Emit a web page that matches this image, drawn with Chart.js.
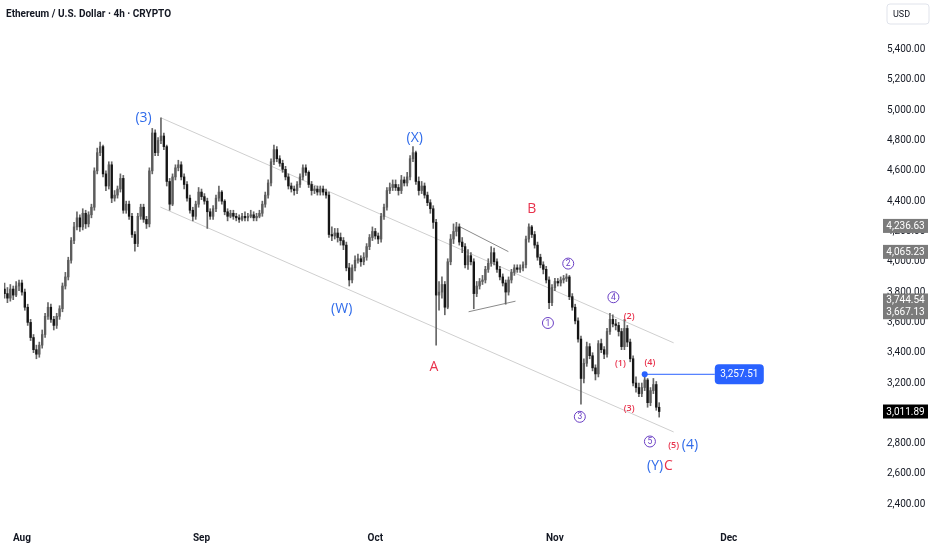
<!DOCTYPE html>
<html>
<head>
<meta charset="utf-8">
<title>ETHUSD 4h</title>
<script src="https://cdn.jsdelivr.net/npm/chart.js@4.4.1/dist/chart.umd.min.js"></script>
<style>
  html, body { margin: 0; padding: 0; background: #fff; }
  #wrap { position: relative; width: 932px; height: 550px; }
</style>
</head>
<body>
<div id="wrap"><canvas id="chart_eth" width="932" height="550"></canvas></div>
<script>
// Candles (12h each), day 0 = 1 Aug
const firstDay = -3
const stepDays = 0.5

const opens = [3820,3790,3760,3820,3780,3840,3860,3800,3700,3600,
 3500,3420,3390,3450,3520,3640,3700,3620,3580,3640,
 3690,3840,3900,4010,4140,4230,4290,4230,4320,4250,
 4310,4360,4600,4720,4760,4580,4500,4640,4420,4440,
 4480,4550,4340,4380,4300,4180,4120,4300,4360,4280,
 4250,4600,4850,4720,4800,4830,4760,4530,4380,4560,
 4620,4640,4560,4510,4420,4340,4300,4380,4460,4430,
 4400,4330,4300,4350,4420,4460,4400,4330,4300,4320,
 4300,4290,4280,4300,4290,4300,4310,4290,4300,4320,
 4380,4440,4520,4660,4740,4680,4650,4610,4560,4500,
 4480,4470,4510,4560,4620,4590,4510,4470,4480,4460,
 4480,4460,4440,4180,4170,4190,4160,4140,4110,3960,
 3880,3960,4010,4020,4000,4030,4100,4160,4200,4170,
 4150,4300,4360,4470,4490,4510,4490,4470,4540,4520,
 4560,4680,4720,4530,4470,4500,4440,4390,4350,4260,
 3780,3800,3850,3700,4000,4150,4200,4230,4130,4100,
 3980,4040,4000,3790,3840,3870,3880,3950,3990,4060,
 4000,3950,3900,3860,3800,3880,3930,3960,3950,3960,
 3980,4150,4230,4180,4110,4030,3980,3950,3880,3730,
 3830,3870,3860,3880,3890,3900,3770,3700,3610,3490,
 3230,3330,3440,3380,3300,3260,3460,3420,3390,3540,
 3620,3590,3580,3540,3440,3560,3470,3360,3200,3170,
 3130,3170,3220,3070,3150,3190,3040]

const highs = [3860,3830,3850,3840,3870,3880,3880,3820,3720,3620,
 3520,3450,3470,3550,3660,3730,3720,3640,3660,3710,
 3860,3930,4030,4160,4260,4330,4310,4350,4340,4330,
 4380,4620,4750,4790,4770,4600,4660,4660,4470,4500,
 4580,4570,4400,4400,4320,4200,4320,4380,4380,4300,
 4620,4880,4870,4820,4950,4850,4770,4550,4580,4640,
 4670,4660,4580,4530,4440,4360,4400,4490,4480,4450,
 4420,4350,4370,4440,4500,4470,4410,4350,4340,4340,
 4320,4310,4320,4330,4320,4340,4330,4320,4340,4400,
 4460,4540,4680,4770,4760,4700,4670,4630,4580,4520,
 4500,4530,4580,4640,4640,4600,4530,4500,4500,4500,
 4500,4480,4460,4230,4220,4220,4190,4160,4130,3990,
 3980,4040,4050,4040,4060,4120,4180,4230,4220,4190,
 4320,4380,4490,4520,4540,4540,4510,4570,4560,4590,
 4700,4760,4730,4560,4530,4520,4460,4410,4370,4280,
 3870,3900,3870,4020,4180,4250,4260,4250,4160,4120,
 4080,4060,4020,3870,3890,3910,3970,4020,4100,4090,
 4020,3970,3920,3880,3900,3950,3980,3980,3980,4000,
 4170,4250,4240,4200,4130,4050,4000,3970,3900,3850,
 3890,3890,3900,3910,3920,3910,3790,3720,3630,3510,
 3360,3470,3460,3400,3320,3480,3490,3440,3560,3660,
 3650,3620,3600,3560,3620,3580,3490,3380,3240,3200,
 3200,3257.51,3230,3170,3230,3210,3070]

const lows = [3760,3730,3740,3750,3770,3810,3780,3680,3580,3480,
 3400,3360,3370,3430,3500,3620,3600,3550,3560,3620,
 3670,3820,3880,3990,4120,4210,4200,4210,4220,4230,
 4290,4340,4580,4700,4560,4470,4480,4390,4400,4420,
 4460,4320,4320,4280,4160,4070,4100,4280,4260,4220,
 4230,4580,4700,4700,4780,4740,4500,4340,4370,4540,
 4600,4540,4480,4400,4320,4270,4280,4360,4410,4380,
 4220,4280,4280,4330,4400,4380,4310,4270,4290,4280,
 4270,4260,4270,4270,4270,4290,4270,4270,4290,4300,
 4360,4420,4500,4640,4660,4630,4590,4540,4480,4460,
 4440,4450,4490,4540,4570,4490,4440,4450,4440,4440,
 4440,4420,4160,4140,4150,4130,4110,4080,3940,3840,
 3860,3940,3990,3970,3980,4010,4080,4140,4150,4120,
 4130,4280,4340,4450,4470,4470,4440,4450,4500,4500,
 4540,4660,4510,4440,4450,4420,4370,4320,4220,3450,
 3680,3760,3650,3690,3980,4120,4170,4110,4060,3960,
 3950,3980,3690,3770,3820,3850,3860,3930,3970,3980,
 3930,3880,3840,3720,3780,3860,3910,3930,3930,3940,
 3960,4130,4160,4090,4010,3960,3920,3860,3690,3710,
 3810,3840,3840,3860,3870,3750,3680,3590,3470,3060,
 3200,3310,3360,3280,3220,3240,3400,3360,3370,3520,
 3570,3550,3510,3420,3420,3440,3340,3180,3140,3110,
 3110,3150,3040,3050,3130,3020,2975]

const closes = [3790,3760,3820,3780,3840,3860,3800,3700,3600,3500,
 3420,3390,3450,3520,3640,3700,3620,3580,3640,3690,
 3840,3900,4010,4140,4230,4290,4230,4320,4250,4310,
 4360,4600,4720,4760,4580,4500,4640,4420,4440,4480,
 4550,4340,4380,4300,4180,4120,4300,4360,4280,4250,
 4600,4850,4720,4800,4830,4760,4530,4380,4560,4620,
 4640,4560,4510,4420,4340,4300,4380,4460,4430,4400,
 4330,4300,4350,4420,4460,4400,4330,4300,4320,4300,
 4290,4280,4300,4290,4300,4310,4290,4300,4320,4380,
 4440,4520,4660,4740,4680,4650,4610,4560,4500,4480,
 4470,4510,4560,4620,4590,4510,4470,4480,4460,4480,
 4460,4440,4180,4170,4190,4160,4140,4110,3960,3880,
 3960,4010,4020,4000,4030,4100,4160,4200,4170,4150,
 4300,4360,4470,4490,4510,4490,4470,4540,4520,4560,
 4680,4720,4530,4470,4500,4440,4390,4350,4260,3780,
 3800,3850,3700,4000,4150,4200,4230,4130,4100,3980,
 4040,4000,3790,3840,3870,3880,3950,3990,4060,4000,
 3950,3900,3860,3800,3880,3930,3960,3950,3960,3980,
 4150,4230,4180,4110,4030,3980,3950,3880,3730,3830,
 3870,3860,3880,3890,3900,3770,3700,3610,3490,3230,
 3330,3440,3380,3300,3260,3460,3420,3390,3540,3620,
 3590,3580,3540,3440,3560,3470,3360,3200,3170,3130,
 3170,3220,3070,3150,3190,3040,3011.89]

// Eixos
const monthDays = [0, 31, 61, 92, 122]
const monthNames = ['Aug', 'Sep', 'Oct', 'Nov', 'Dec']
const priceTicks = [2400, 2600, 2800, 3000, 3200, 3400, 3600, 3800, 4000, 4200, 4400, 4600, 4800, 5000, 5200, 5400]

// Linhas desenhadas (dia, preço)
const channelTop = [[24.05, 4949], [112.5, 3465]]
const channelBottom = [[23.9, 4361], [112.5, 2877]]
const triangleTop = [[75.65, 4230], [83.97, 4067]]
const triangleBottom = [[77.1, 3670], [85.2, 3740]]
const alertPrice = 3257.51
const alertFrom = 107.5
const alertTo = 119.6

// Marcas de preço no eixo
const grayTags = [4236.63, 4065.23, 3744.54, 3667.13]
const lastPrice = 3011.89

// Contagem de ondas: [texto, dia, preço]
const blueWaves = [['(3)', 21, 4950], ['(X)', 67.8, 4818], ['(W)', 55.2, 3688], ['(Y)', 109.3, 2655], ['(4)', 115.3, 2792]]
const redWaves = [['A', 71.1, 3308], ['B', 88.0, 4348], ['C', 111.6, 2655]]
const circleWaves = [['1', 90.8, 3596], ['2', 94.3, 3988], ['3', 96.3, 2977], ['4', 102.1, 3766], ['5', 108.4, 2814]]
const subWaves = [['(1)', 103.3, 3330], ['(2)', 104.8, 3637], ['(3)', 104.8, 3034], ['(4)', 108.4, 3335], ['(5)', 112.5, 2786]]

function fmt(v) {
    return v.toLocaleString('en-US', { minimumFractionDigits: 2, maximumFractionDigits: 2 })
}
function pts(arr) {
    return arr.map(p => ({ x: p[0], y: p[1] }))
}

let wicks = []
let bodies = []
let bodyColors = []
for (let i = 0; i < closes.length; i++) {
    let d = firstDay + i * stepDays
    wicks.push({ x: d, y: [lows[i], highs[i]] })
    bodies.push({ x: d, y: [opens[i], closes[i]] })
    bodyColors.push(closes[i] >= opens[i] ? '#5c5c5c' : '#151515')
}

const BLUE = '#2f6bea'
const RED = '#e8334d'
const PURPLE = '#6a3fc4'
const TEXT = '#131722'

const overlay = {
    id: 'overlay',
    afterDraw(chart) {
        const ctx = chart.ctx
        const x = chart.scales.x
        const y = chart.scales.y
        const area = chart.chartArea
        ctx.save()

        // título
        ctx.textAlign = 'left'
        ctx.textBaseline = 'middle'
        ctx.fillStyle = TEXT
        ctx.font = 'bold 10px Roboto'
        ctx.fillText('Ethereum / U.S. Dollar · 4h · CRYPTO', 6, 14)

        // ondas
        ctx.textAlign = 'center'
        ctx.font = '14px "Open Sans"'
        ctx.fillStyle = BLUE
        blueWaves.forEach(w => ctx.fillText(w[0], x.getPixelForValue(w[1]), y.getPixelForValue(w[2])))
        ctx.fillStyle = RED
        redWaves.forEach(w => ctx.fillText(w[0], x.getPixelForValue(w[1]), y.getPixelForValue(w[2])))

        ctx.font = '600 9px "Open Sans"'
        ctx.fillStyle = RED
        subWaves.forEach(w => ctx.fillText(w[0], x.getPixelForValue(w[1]), y.getPixelForValue(w[2])))

        ctx.strokeStyle = PURPLE
        ctx.fillStyle = PURPLE
        ctx.lineWidth = 1
        ctx.font = '8.5px Roboto'
        circleWaves.forEach(w => {
            let px = x.getPixelForValue(w[1])
            let py = y.getPixelForValue(w[2])
            ctx.beginPath()
            ctx.arc(px, py, 5.5, 0, Math.PI * 2)
            ctx.stroke()
            ctx.fillText(w[0], px, py + 0.5)
        })

        // alerta azul
        let ax = x.getPixelForValue(alertTo)
        let ay = y.getPixelForValue(alertPrice)
        ctx.fillStyle = '#2962ff'
        ctx.beginPath()
        ctx.roundRect(ax, ay - 10, 49, 20, 4)
        ctx.fill()
        ctx.fillStyle = '#fff'
        ctx.font = '10px Roboto'
        ctx.fillText(fmt(alertPrice), ax + 24.5, ay + 0.5)

        // marcas no eixo de preço
        let tx = area.right + 13
        grayTags.forEach(v => {
            let py = y.getPixelForValue(v)
            ctx.fillStyle = '#7b7b7b'
            ctx.fillRect(tx, py - 7, 45, 14)
            ctx.fillStyle = '#fff'
            ctx.fillText(fmt(v), tx + 22.5, py + 0.5)
        })
        let ly = y.getPixelForValue(lastPrice)
        ctx.fillStyle = '#000'
        ctx.fillRect(tx, ly - 7, 45, 14)
        ctx.fillStyle = '#fff'
        ctx.fillText(fmt(lastPrice), tx + 22.5, ly + 0.5)

        // USD
        ctx.strokeStyle = '#e0e3eb'
        ctx.beginPath()
        ctx.roundRect(tx + 4, 4, 42, 20, 3)
        ctx.stroke()
        ctx.fillStyle = TEXT
        ctx.textAlign = 'left'
        ctx.font = '9px Roboto'
        ctx.fillText('USD', tx + 10, 14.5)

        ctx.restore()
    }
}

const chart_eth = new Chart(document.getElementById('chart_eth'), {
    type: 'bar',
    data: {
        datasets: [{
            type: 'bar',
            data: bodies,
            backgroundColor: bodyColors,
            barThickness: 1.7,
            minBarLength: 1,
            grouped: false,
            order: 1
        }, {
            type: 'bar',
            data: wicks,
            backgroundColor: '#666666',
            barThickness: 1,
            grouped: false,
            order: 2
        }, {
            type: 'line',
            data: pts(channelTop),
            borderColor: '#cfcfcf',
            borderWidth: 1,
            pointRadius: 0,
            order: 3
        }, {
            type: 'line',
            data: pts(channelBottom),
            borderColor: '#cfcfcf',
            borderWidth: 1,
            pointRadius: 0,
            order: 3
        }, {
            type: 'line',
            data: pts(triangleTop),
            borderColor: '#8a8a8a',
            borderWidth: 1,
            pointRadius: 0,
            order: 3
        }, {
            type: 'line',
            data: pts(triangleBottom),
            borderColor: '#8a8a8a',
            borderWidth: 1,
            pointRadius: 0,
            order: 3
        }, {
            type: 'line',
            data: [{ x: alertFrom, y: alertPrice }, { x: alertTo, y: alertPrice }],
            borderColor: '#2962ff',
            borderWidth: 1,
            pointRadius: [3, 0],
            pointBackgroundColor: '#2962ff',
            pointBorderWidth: 0,
            order: 0
        }]
    },
    options: {
        responsive: false,
        animation: false,
        layout: { padding: 0 },
        plugins: { legend: { display: false }, tooltip: { enabled: false } },
        scales: {
            x: {
                type: 'linear',
                min: -3.093,
                max: 146.39,
                offset: false,
                grid: { display: false, drawTicks: false },
                border: { display: false },
                afterBuildTicks: (scale) => { scale.ticks = monthDays.map(v => ({ value: v })) },
                afterFit: (scale) => { scale.height = 25; scale.paddingLeft = 0; scale.paddingRight = 0 },
                ticks: {
                    autoSkip: false,
                    maxRotation: 0,
                    padding: 7,
                    color: TEXT,
                    font: { family: 'Roboto', size: 10, weight: 'bold' },
                    callback: (v, i) => monthNames[i]
                }
            },
            y: {
                type: 'linear',
                position: 'right',
                min: 2263,
                max: 5701,
                grid: { display: false, drawTicks: false },
                border: { display: false },
                afterBuildTicks: (scale) => { scale.ticks = priceTicks.map(v => ({ value: v })) },
                afterFit: (scale) => { scale.width = 62; scale.paddingTop = 0; scale.paddingBottom = 0 },
                ticks: {
                    padding: 17,
                    color: TEXT,
                    font: { family: 'Roboto', size: 10 },
                    callback: (v) => fmt(v)
                }
            }
        }
    },
    plugins: [overlay]
})
</script>
</body>
</html>
